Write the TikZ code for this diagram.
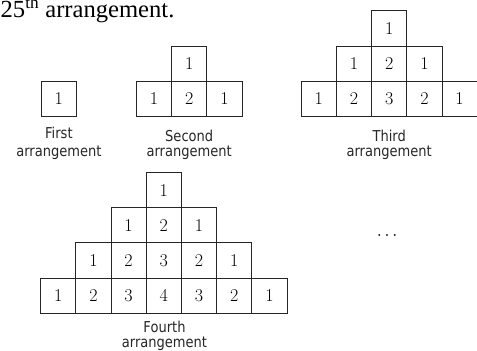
\documentclass[tikz,border=0pt]{standalone}
\usepackage{fontspec}
\newfontfamily\labfont{DejaVu Sans}[FakeStretch=0.87]
\newfontfamily\headfont{Liberation Serif}

% Number pyramid: #1 name, #2 rows, #3 centre x, #4 bottom y
\newcommand\numpyramid[4]{%
  \foreach \k in {1,...,#2}{%
    \pgfmathtruncatemacro\m{2*\k-1}%
    \foreach \j in {1,...,\m}{%
      \pgfmathtruncatemacro\v{\k-abs(\j-\k)}%
      \node[cell] (#1-\k-\j) at ({#3+(\j-\k)*35.2},{#4-(#2-\k+0.5)*35.2}) {\v};
    }%
  }%
}

\begin{document}
\begin{tikzpicture}[x=1pt,y=-1pt,
  cell/.style={draw=black!85, line width=1pt, minimum width=35.2pt,
    minimum height=35.2pt, inner sep=0pt, text=black,
    font=\fontsize{18}{20}\selectfont},
  lab/.style={align=center, inner sep=0pt, anchor=north, text=black!85,
    font=\labfont\fontsize{15}{15}\selectfont},
  dot/.style={circle, fill=black!85, inner sep=0pt, minimum size=2.3pt}]
\useasboundingbox (0,0) rectangle (477,351);

% heading line
\node[anchor=base west, inner sep=0pt,
  font=\headfont\fontsize{24.6}{28}\selectfont] (head) at (0.5,17.5)
  {25\textsuperscript{th} arrangement.};

% the four arrangements
\numpyramid{a}{1}{58.7}{116.5}
\numpyramid{b}{2}{189.2}{116.5}
\numpyramid{c}{3}{389.2}{116.5}
\numpyramid{d}{4}{163.8}{313.3}

% captions
\node[lab] (capa) at (58.9,127.0) {First\\[3.4pt]arrangement};
\node[lab] (capb) at (189.2,130.4) {Second\\arrangement};
\node[lab] (capc) at (389.2,130.4) {Third\\arrangement};
\node[lab] (capd) at (164.5,320.4) {Fourth\\arrangement};

% continuation dots
\node[dot] (more1) at (379.3,235) {};
\node[dot] (more2) at (387.0,235) {};
\node[dot] (more3) at (394.7,235) {};
\end{tikzpicture}
\end{document}
